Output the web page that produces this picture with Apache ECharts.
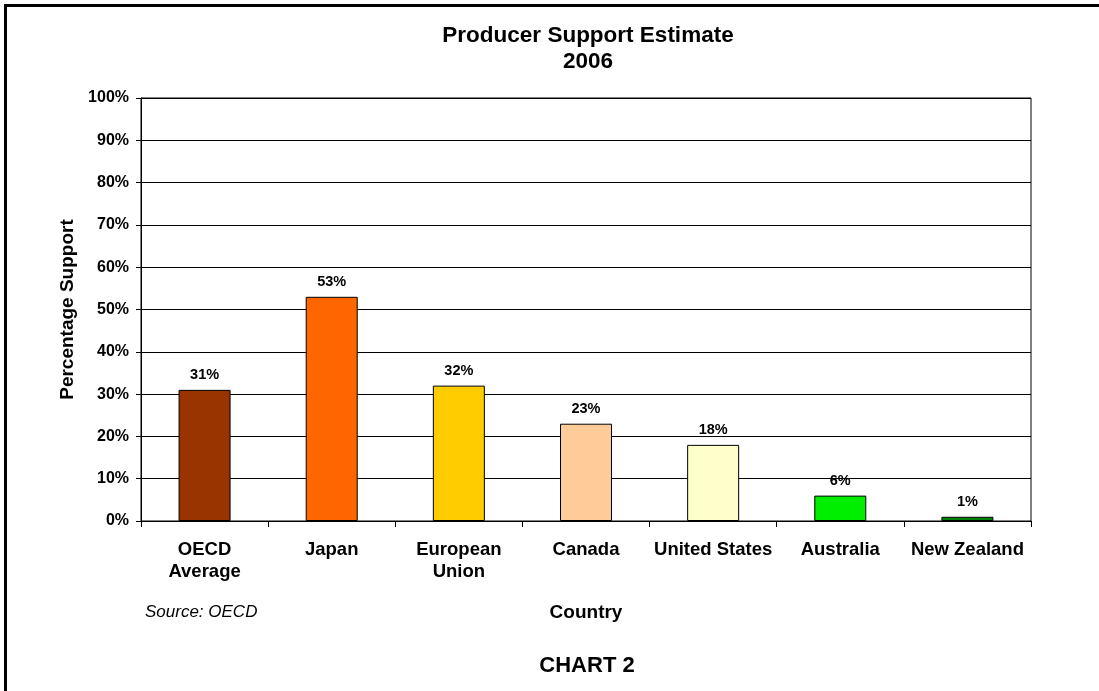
<!DOCTYPE html>
<html>
<head>
<meta charset="utf-8">
<script src="https://cdn.jsdelivr.net/npm/echarts@6/dist/echarts.min.js"></script>
<style>
html, body { margin: 0; padding: 0; background: #fff; }
#chart { width: 1099px; height: 691px; }
</style>
</head>
<body>
<div id="chart"></div>
<script>
// 数据
const countries = ['OECD\nAverage', 'Japan', 'European\nUnion', 'Canada', 'United States', 'Australia', 'New Zealand']
const support = [31, 53, 32, 23, 18, 6, 1]
const barColors = ['#993300', '#FF6600', '#FFCC00', '#FFCC99', '#FFFFCC', '#00EE00', '#008000']
const yTicks = [0, 10, 20, 30, 40, 50, 60, 70, 80, 90, 100]

const chart = echarts.init(document.getElementById('chart'), null, {renderer: 'canvas'})
const font = 'Liberation Sans, Arial, sans-serif'

const option = {
    backgroundColor: '#fff',
    animation: false,
    textStyle: {fontFamily: font},
    grid: {
        left: 141,
        right: 68,
        top: 98,
        bottom: 170,
        show: true,
        borderColor: '#000',
        borderWidth: 1
    },
    xAxis: {
        type: 'category',
        data: countries,
        name: 'Country',
        nameLocation: 'middle',
        nameGap: 82,
        nameTextStyle: {fontFamily: font, fontWeight: 'bold', fontSize: 19, color: '#000'},
        axisLine: {lineStyle: {color: '#000', width: 1}},
        axisTick: {show: true, length: 6, alignWithLabel: false, lineStyle: {color: '#000'}},
        axisLabel: {
            interval: 0,
            margin: 18,
            fontFamily: font,
            fontWeight: 'bold',
            fontSize: 18.5,
            lineHeight: 22,
            color: '#000'
        }
    },
    yAxis: {
        type: 'value',
        min: yTicks[0],
        max: yTicks[yTicks.length - 1],
        interval: 10,
        name: 'Percentage Support',
        nameLocation: 'middle',
        nameGap: 63,
        nameTextStyle: {fontFamily: font, fontWeight: 'bold', fontSize: 19, color: '#000'},
        axisLine: {show: true, lineStyle: {color: '#000', width: 1}},
        axisTick: {show: true, length: 5, lineStyle: {color: '#000'}},
        splitLine: {show: true, lineStyle: {color: '#000', width: 1}},
        axisLabel: {
            margin: 12,
            fontFamily: font,
            fontWeight: 'bold',
            fontSize: 16,
            color: '#000',
            formatter: '{value}%'
        }
    },
    series: [{
        type: 'bar',
        barWidth: 52,
        data: support.map((v, i) => ({
            value: v,
            itemStyle: {color: barColors[i]}
        })),
        itemStyle: {borderColor: '#000', borderWidth: 1},
        label: {
            show: true,
            position: 'top',
            distance: 7,
            formatter: '{c}%',
            fontFamily: font,
            fontWeight: 'bold',
            fontSize: 14.5,
            color: '#000'
        }
    }],
    graphic: [{ // 外框
        type: 'rect',
        shape: {x: 5.5, y: 5.5, width: 1200, height: 800},
        style: {fill: 'none', stroke: '#000', lineWidth: 3},
        silent: true
    }, { // 标题
        type: 'text',
        x: 588,
        y: 49,
        style: {
            text: 'Producer Support Estimate\n2006',
            align: 'center',
            verticalAlign: 'middle',
            fontFamily: font,
            fontWeight: 'bold',
            fontSize: 22.5,
            lineHeight: 26,
            fill: '#000'
        }
    }, {
        type: 'text',
        x: 145,
        y: 612,
        style: {
            text: 'Source: OECD',
            align: 'left',
            verticalAlign: 'middle',
            fontFamily: font,
            fontStyle: 'italic',
            fontSize: 17,
            fill: '#000'
        }
    }, {
        type: 'text',
        x: 587,
        y: 666,
        style: {
            text: 'CHART 2',
            align: 'center',
            verticalAlign: 'middle',
            fontFamily: font,
            fontWeight: 'bold',
            fontSize: 22,
            fill: '#000'
        }
    }]
}
chart.setOption(option)
</script>
</body>
</html>
